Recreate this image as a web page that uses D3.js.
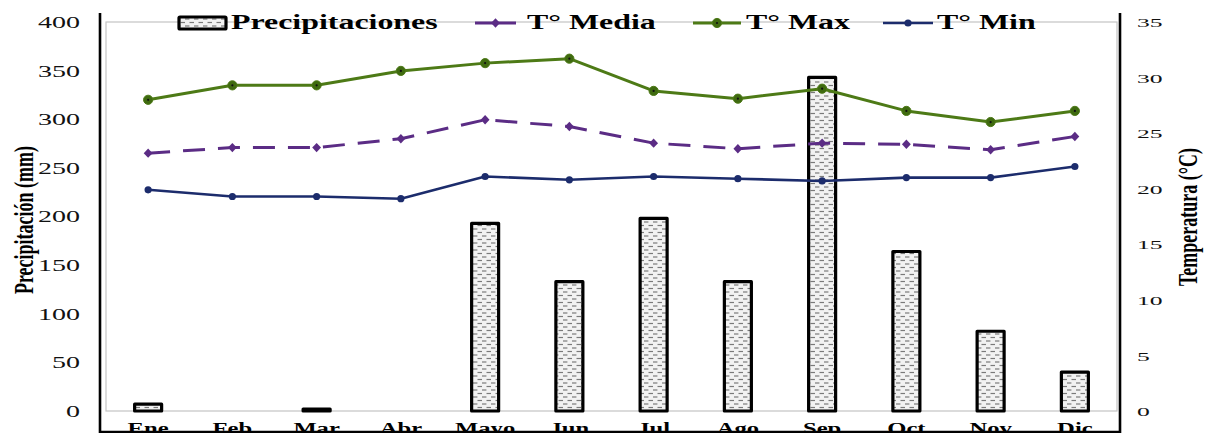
<!DOCTYPE html>
<html>
<head>
<meta charset="utf-8">
<script src="https://cdn.jsdelivr.net/npm/d3@7/dist/d3.min.js"></script>
<style>
  html, body { margin: 0; padding: 0; background: #fff; overflow: hidden; }
  svg { display: block; }
  text { font-family: "Liberation Serif", "Times New Roman", serif; fill: #000; }
</style>
</head>
<body>
<svg id="chart" width="1209" height="433"></svg>
<script>
// Monthly climate data
const months = ["Ene", "Feb", "Mar", "Abr", "Mayo", "Jun", "Jul", "Ago", "Sep", "Oct", "Nov", "Dic"];
const precipitacion = [7, 0, 2, 0, 193, 133, 198, 133, 343, 164, 82, 40];
const tMax   = [28.0, 29.3, 29.3, 30.6, 31.3, 31.7, 28.8, 28.1, 29.0, 27.0, 26.0, 27.0];
const tMedia = [23.2, 23.7, 23.7, 24.5, 26.2, 25.6, 24.1, 23.6, 24.1, 24.0, 23.5, 24.7];
const tMin   = [19.9, 19.3, 19.3, 19.1, 21.1, 20.8, 21.1, 20.9, 20.7, 21.0, 21.0, 22.0];
const precipTicks = [0, 50, 100, 150, 200, 250, 300, 350, 400];
const tempTicks = [0, 5, 10, 15, 20, 25, 30, 35];

const svg = d3.select("#chart");

const plot = { left: 106, right: 1117, top: 22, bottom: 411 };

const x = d3.scaleBand().domain(months).range([plot.left, plot.right]).padding(0);
const yP = d3.scaleLinear().domain([0, 400]).range([plot.bottom, plot.top]);
const yT = d3.scaleLinear().domain([0, 35]).range([plot.bottom, plot.top]);
const cx = m => x(m) + x.bandwidth() / 2;

// Hatched fill for the precipitation bars
const defs = svg.append("defs");
const pat = defs.append("pattern")
  .attr("id", "lluvia").attr("patternUnits", "userSpaceOnUse")
  .attr("width", 9).attr("height", 7);
pat.append("rect").attr("width", 9).attr("height", 7).attr("fill", "#f2f2f2");
pat.append("line").attr("x1", 0.5).attr("x2", 5).attr("y1", 1.5).attr("y2", 1.5)
  .attr("stroke", "#7a7a7a").attr("stroke-width", 1.2);
pat.append("line").attr("x1", 5).attr("x2", 9).attr("y1", 5).attr("y2", 5)
  .attr("stroke", "#7a7a7a").attr("stroke-width", 1.2);
pat.append("line").attr("x1", 0).attr("x2", 0.5).attr("y1", 5).attr("y2", 5)
  .attr("stroke", "#7a7a7a").attr("stroke-width", 1.2);

// Plot area border
svg.append("rect")
  .attr("x", plot.left).attr("y", plot.top)
  .attr("width", plot.right - plot.left).attr("height", plot.bottom - plot.top)
  .attr("fill", "none").attr("stroke", "#c4c4c4").attr("stroke-width", 1.2);

// Bars
const barW = 27;
svg.append("g").selectAll("rect")
  .data(months.map((m, i) => ({ m, v: precipitacion[i] })).filter(d => d.v > 0))
  .join("rect")
  .attr("x", d => cx(d.m) - barW / 2)
  .attr("y", d => yP(d.v))
  .attr("width", barW)
  .attr("height", d => yP(0) - yP(d.v))
  .attr("fill", "url(#lluvia)")
  .attr("stroke", "#000").attr("stroke-width", 3.2)
  .attr("stroke-linejoin", "round");

// Temperature series
const series = [
  { name: "T° Media", values: tMedia, color: "#5b2c85", width: 3, dash: "22,13", r: 3.2, marker: "diamond" },
  { name: "T° Max",   values: tMax,   color: "#4d7a16", width: 3, dash: null, r: 4.6, marker: "dot" },
  { name: "T° Min",   values: tMin,   color: "#1c2c6c", width: 2.6, dash: null, r: 3.6, marker: "circle" }
];

const line = d3.line().x(d => cx(d.m)).y(d => yT(d.v));

function drawMarker(g, px, py, s) {
  if (s.marker === "diamond") {
    g.append("path")
      .attr("d", d3.symbol(d3.symbolDiamond, 40)())
      .attr("transform", `translate(${px},${py}) scale(1.3,0.8)`)
      .attr("fill", s.color);
  } else if (s.marker === "dot") {
    g.append("circle").attr("cx", px).attr("cy", py).attr("r", s.r)
      .attr("fill", "#3f6a10").attr("stroke", s.color).attr("stroke-width", 1);
    g.append("circle").attr("cx", px).attr("cy", py).attr("r", 1.1).attr("fill", "#111");
  } else {
    g.append("circle").attr("cx", px).attr("cy", py).attr("r", s.r).attr("fill", s.color);
  }
}

series.forEach(s => {
  const pts = months.map((m, i) => ({ m, v: s.values[i] }));
  const g = svg.append("g");
  g.append("path").datum(pts)
    .attr("d", line)
    .attr("fill", "none")
    .attr("stroke", s.color)
    .attr("stroke-width", s.width)
    .attr("stroke-dasharray", s.dash)
    .attr("stroke-linejoin", "round");
  pts.forEach(p => drawMarker(g, cx(p.m), yT(p.v), s));
});

// Frame lines
const frame = svg.append("g").attr("stroke", "#000").attr("stroke-width", 2.6);
frame.append("line").attr("x1", 100).attr("x2", 100).attr("y1", 13).attr("y2", 433);
frame.append("line").attr("x1", 1120).attr("x2", 1120).attr("y1", 13).attr("y2", 433);
frame.append("line").attr("x1", 99).attr("x2", 1121).attr("y1", 432).attr("y2", 432);

// Left axis (precipitation)
const axL = svg.append("g").attr("transform", "translate(80,0)")
  .call(d3.axisLeft(yP).tickValues(precipTicks).tickSize(0).tickPadding(0));
axL.select(".domain").remove();
axL.selectAll("text")
  .attr("x", 0).attr("dy", "0.34em")
  .attr("text-anchor", "end")
  .attr("transform", "scale(1.75,1)")
  .style("font-family", "'Liberation Serif', serif")
  .style("font-size", "16px").style("fill", "#111");

// Right axis (temperature)
const axR = svg.append("g").attr("transform", "translate(1137,0)")
  .call(d3.axisRight(yT).tickValues(tempTicks).tickSize(0).tickPadding(0));
axR.select(".domain").remove();
axR.selectAll("text")
  .attr("x", 0).attr("dy", "0.34em")
  .attr("text-anchor", "start")
  .attr("transform", "scale(1.9,1)")
  .style("font-family", "'Liberation Serif', serif")
  .style("font-size", "13.5px").style("fill", "#111");

// Month labels
const axB = svg.append("g").attr("transform", "translate(0,434)")
  .call(d3.axisBottom(x).tickSize(0).tickPadding(0));
axB.select(".domain").remove();
axB.selectAll("text")
  .attr("y", 0).attr("dy", 0)
  .attr("transform", "scale(1.45,1)")
  .style("font-family", "'Liberation Serif', serif")
  .style("font-size", "17px").style("font-weight", "bold").style("fill", "#000");

// Axis titles
svg.append("text")
  .attr("transform", "translate(33,220) scale(1.5,1) rotate(-90)")
  .attr("text-anchor", "middle")
  .style("font-size", "18px").style("font-weight", "bold")
  .text("Precipitación (mm)");
svg.append("text")
  .attr("transform", "translate(1197,217) scale(1.5,1) rotate(-90)")
  .attr("text-anchor", "middle")
  .style("font-size", "18px").style("font-weight", "bold")
  .text("Temperatura (°C)");

// Legend
const legend = svg.append("g");
const legY = 23;
legend.append("rect")
  .attr("x", 179).attr("y", 17).attr("width", 47).attr("height", 12)
  .attr("fill", "url(#lluvia)").attr("stroke", "#000").attr("stroke-width", 3.2)
  .attr("rx", 1);
const legItems = [
  { label: "Precipitaciones", tx: 231, s: null },
  { label: "T° Media", tx: 527, s: series[0], x1: 475, x2: 516 },
  { label: "T° Max", tx: 746, s: series[1], x1: 693, x2: 741 },
  { label: "T° Min", tx: 937, s: series[2], x1: 883, x2: 933 }
];
legItems.forEach(it => {
  if (it.s) {
    legend.append("line")
      .attr("x1", it.x1).attr("x2", it.x2).attr("y1", legY).attr("y2", legY)
      .attr("stroke", it.s.color).attr("stroke-width", it.s.width);
    drawMarker(legend, (it.x1 + it.x2) / 2, legY, it.s);
  }
  legend.append("text")
    .attr("transform", `translate(${it.tx},29) scale(1.45,1)`)
    .style("font-size", "22px").style("font-weight", "bold")
    .text(it.label);
});
</script>
</body>
</html>
